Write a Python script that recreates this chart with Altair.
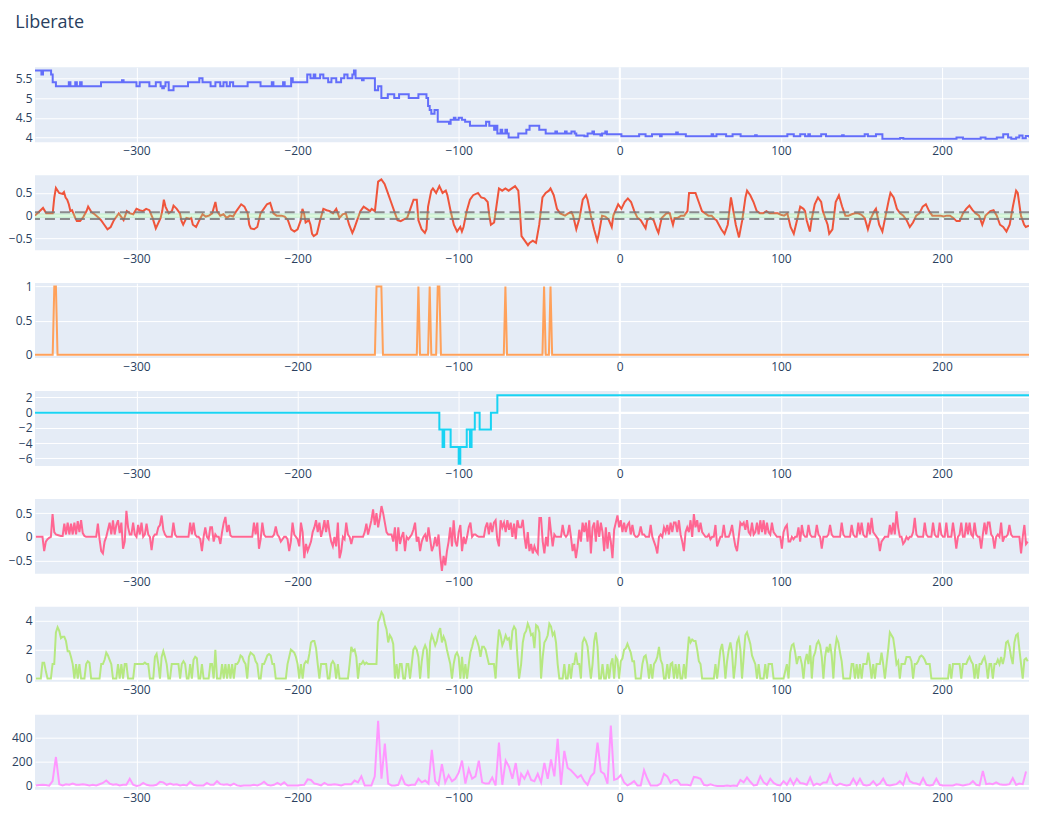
import altair as alt
import pandas as pd

# x range and ticks shared by every panel
X_DOMAIN = [-363, 254]
X_TICKS = [-300, -200, -100, 0, 100, 200]

# traced series are read at even steps, left half and right half of the picture
LEFT_START = -362.5
RIGHT_START = -61.24
FINE_LEFT, FINE_RIGHT = 25 / 24, 5 / 4.85
COARSE_LEFT, COARSE_RIGHT = 25 / 12, 10 / 4.85

# panel 1: level changes (x, value)
rate_steps = [
    (-363, 5.7), (-359, 5.6), (-358, 5.7), (-353, 5.6), (-352, 5.4), (-350, 5.3), (-342, 5.4), (-341, 5.3),
    (-338, 5.4), (-337, 5.3), (-335, 5.4), (-334, 5.3), (-322, 5.4), (-309, 5.45), (-308, 5.4), (-300, 5.3),
    (-298, 5.4), (-292, 5.3), (-288, 5.4), (-285, 5.3), (-284, 5.25), (-283, 5.3), (-282, 5.4), (-280, 5.2),
    (-277, 5.3), (-268, 5.4), (-261, 5.5), (-259, 5.4), (-254, 5.3), (-251, 5.4), (-248, 5.3), (-246, 5.4),
    (-244, 5.3), (-242, 5.4), (-240, 5.3), (-231, 5.4), (-223, 5.3), (-216, 5.4), (-215, 5.3), (-209, 5.4),
    (-208, 5.3), (-204, 5.5), (-203, 5.4), (-194, 5.6), (-192, 5.5), (-190, 5.6), (-189, 5.5), (-186, 5.6),
    (-184, 5.5), (-181, 5.4), (-179, 5.5), (-176, 5.4), (-173, 5.5), (-171, 5.6), (-169, 5.5), (-166, 5.6),
    (-165, 5.7), (-164, 5.5), (-160, 5.45), (-159, 5.5), (-152, 5.2), (-150, 5.3), (-148, 5.0), (-144, 5.1),
    (-140, 5.0), (-137, 5.1), (-131, 5.0), (-125, 5.1), (-120, 5.0), (-119, 4.8), (-118, 4.7), (-117, 4.6),
    (-115, 4.7), (-113, 4.4), (-106, 4.35), (-105, 4.45), (-103, 4.5), (-102, 4.45), (-100, 4.5), (-98, 4.45),
    (-96, 4.4), (-93, 4.3), (-83, 4.4), (-81, 4.3), (-78, 4.2), (-77, 4.3), (-76, 4.1), (-74, 4.2),
    (-73, 4.1), (-71, 4.2), (-70, 4.1), (-69, 4.0), (-63, 4.1), (-58, 4.2), (-56, 4.3), (-50, 4.2),
    (-46, 4.1), (-40, 4.15), (-39, 4.1), (-34, 4.15), (-33, 4.1), (-30, 4.15), (-28, 4.1), (-27, 4.05),
    (-22, 4.03), (-20, 4.1), (-17, 4.15), (-16, 4.08), (-12, 4.05), (-11, 4.1), (-9, 4.15), (-8, 4.08),
    (1, 4.03), (12, 4.08), (16, 4.03), (20, 4.08), (25, 4.03), (26, 4.08), (35, 4.13), (36, 4.08),
    (41, 4.03), (57, 4.08), (58, 4.03), (60, 4.08), (66, 4.03), (70, 4.08), (75, 4.03), (84, 4.06),
    (85, 4.03), (104, 4.08), (108, 4.03), (112, 4.08), (115, 4.03), (117, 4.08), (118, 4.03), (125, 4.08),
    (128, 4.03), (138, 4.06), (139, 4.03), (152, 4.08), (154, 4.03), (159, 4.08), (163, 3.97), (174, 3.99),
    (176, 3.97), (209, 4.0), (213, 3.97), (224, 4.0), (227, 3.97), (234, 4.0), (238, 4.08), (241, 4.0),
    (243, 3.97), (246, 4.0), (248, 4.05), (250, 3.98), (252, 4.04), (254, 4.0),
]

# panel 2: smooth oscillator (x, value)
ratio_pts = [
    (-363, 0.0), (-358, 0.17), (-356, 0.05), (-352, 0.05), (-351, 0.4), (-350, 0.61), (-348, 0.5), (-346, 0.48),
    (-345, 0.52), (-344, 0.4), (-343, 0.35), (-342, 0.25), (-341, 0.1), (-340, 0.12), (-338, -0.05), (-337, -0.12),
    (-335, -0.12), (-333, -0.03), (-331, 0.1), (-330, 0.2), (-328, 0.08), (-326, 0.03), (-324, -0.03), (-322, -0.1),
    (-320, -0.2), (-318, -0.3), (-316, -0.25), (-314, -0.1), (-311, 0.05), (-309, -0.05), (-308, -0.1), (-306, 0.1),
    (-304, 0.05), (-302, 0.03), (-300, 0.15), (-298, 0.12), (-296, 0.1), (-294, 0.15), (-292, 0.12), (-290, -0.05),
    (-288, -0.28), (-285, -0.05), (-284, 0.1), (-283, 0.35), (-282, 0.2), (-280, 0.05), (-278, 0.1), (-277, 0.22),
    (-275, 0.15), (-273, 0.05), (-272, -0.12), (-271, -0.2), (-269, -0.05), (-267, -0.07), (-266, -0.05), (-265, -0.2),
    (-263, -0.25), (-261, -0.1), (-259, 0.03), (-257, -0.02), (-255, 0.0), (-253, 0.05), (-251, 0.3), (-250, 0.1),
    (-248, 0.0), (-246, 0.03), (-244, -0.05), (-242, 0.0), (-240, -0.02), (-238, 0.1), (-235, 0.25), (-233, 0.2),
    (-231, 0.05), (-230, -0.2), (-229, -0.28), (-227, -0.3), (-225, -0.25), (-223, 0.05), (-221, 0.15), (-219, 0.25),
    (-217, 0.28), (-215, 0.05), (-213, 0.0), (-210, 0.0), (-208, -0.02), (-206, -0.1), (-204, -0.3), (-202, -0.35),
    (-200, -0.3), (-198, -0.1), (-197, 0.15), (-196, 0.05), (-195, -0.15), (-193, -0.1), (-192, -0.2), (-191, -0.4),
    (-190, -0.45), (-188, -0.4), (-186, -0.1), (-184, 0.15), (-182, 0.12), (-180, 0.1), (-178, 0.05), (-176, 0.15),
    (-175, 0.05), (-174, -0.05), (-172, 0.03), (-170, 0.05), (-168, -0.2), (-166, -0.38), (-165, -0.3), (-163, -0.1),
    (-161, 0.1), (-159, 0.2), (-157, 0.15), (-155, 0.1), (-154, 0.15), (-152, 0.1), (-150, 0.75), (-148, 0.8),
    (-146, 0.7), (-144, 0.5), (-142, 0.3), (-140, 0.1), (-138, -0.1), (-136, -0.12), (-134, -0.08), (-132, -0.05),
    (-130, 0.15), (-128, 0.35), (-126, 0.35), (-125, -0.1), (-123, -0.3), (-121, -0.38), (-120, -0.3), (-119, 0.2),
    (-117, 0.55), (-116, 0.6), (-114, 0.5), (-112, 0.65), (-110, 0.5), (-108, 0.55), (-107, 0.45), (-105, 0.1),
    (-103, -0.2), (-101, -0.35), (-99, -0.25), (-98, -0.35), (-97, -0.25), (-95, 0.1), (-93, 0.35), (-91, 0.45),
    (-88, 0.5), (-86, 0.4), (-84, 0.38), (-82, 0.3), (-81, 0.0), (-80, -0.2), (-78, -0.15), (-76, 0.35),
    (-75, 0.6), (-73, 0.55), (-71, 0.6), (-69, 0.55), (-67, 0.6), (-65, 0.65), (-63, 0.55), (-62, 0.1),
    (-61, -0.45), (-59, -0.55), (-57, -0.65), (-56, -0.6), (-54, -0.55), (-52, -0.6), (-50, -0.2), (-48, 0.4),
    (-46, 0.5), (-44, 0.55), (-43, 0.6), (-41, 0.45), (-39, 0.15), (-37, 0.05), (-34, 0.0), (-32, 0.05),
    (-30, 0.08), (-29, 0.0), (-27, -0.3), (-25, -0.05), (-23, 0.35), (-21, 0.45), (-20, 0.35), (-18, 0.0),
    (-16, -0.3), (-14, -0.55), (-13, -0.4), (-11, 0.0), (-9, -0.02), (-7, -0.08), (-5, -0.25), (-4, 0.0),
    (-1, 0.25), (1, 0.15), (3, 0.3), (5, 0.38), (7, 0.3), (9, 0.1), (11, -0.05), (13, -0.1),
    (16, -0.28), (17, -0.1), (19, -0.05), (21, -0.1), (23, -0.3), (24, -0.38), (26, -0.05), (29, 0.05),
    (31, 0.05), (33, -0.2), (34, -0.05), (36, -0.05), (38, 0.0), (40, 0.0), (42, 0.1), (43, 0.5),
    (45, 0.5), (47, 0.5), (49, 0.3), (51, 0.1), (53, 0.05), (55, 0.0), (57, 0.0), (59, -0.08),
    (60, -0.1), (63, -0.3), (65, -0.4), (67, -0.2), (69, 0.4), (70, 0.2), (72, -0.2), (74, -0.48),
    (76, -0.1), (78, 0.4), (79, 0.55), (81, 0.45), (83, 0.3), (85, 0.1), (87, 0.05), (89, 0.05),
    (91, 0.1), (93, 0.05), (96, 0.05), (98, 0.05), (100, 0.02), (102, 0.0), (104, 0.05), (106, -0.25),
    (108, -0.4), (110, -0.1), (112, 0.2), (114, 0.15), (115, 0.1), (116, -0.1), (118, -0.35), (119, -0.1),
    (121, 0.25), (123, 0.4), (125, 0.3), (126, 0.1), (129, -0.2), (130, -0.4), (132, -0.3), (134, 0.3),
    (136, 0.45), (138, 0.2), (140, 0.0), (142, 0.0), (144, 0.03), (146, 0.05), (148, 0.05), (150, 0.02),
    (152, -0.05), (154, -0.3), (156, -0.05), (158, 0.1), (159, 0.15), (161, -0.2), (163, -0.35), (165, 0.0),
    (167, 0.35), (168, 0.5), (170, 0.4), (172, 0.15), (174, 0.05), (176, 0.0), (178, -0.1), (180, -0.25),
    (182, -0.15), (184, 0.0), (186, 0.05), (188, 0.2), (190, 0.25), (192, 0.1), (194, 0.0), (197, 0.0),
    (199, 0.0), (201, -0.02), (203, 0.0), (205, 0.0), (207, -0.05), (209, -0.12), (211, -0.12), (213, 0.05),
    (215, 0.15), (217, 0.22), (219, 0.12), (221, 0.05), (223, 0.0), (225, -0.2), (227, 0.0), (230, 0.1),
    (232, 0.12), (234, 0.0), (236, -0.2), (238, -0.25), (240, -0.35), (242, -0.2), (244, 0.2), (246, 0.55),
    (247, 0.5), (249, 0.0), (251, -0.2), (252, -0.25), (254, -0.22),
]
RATIO_BAND = (-0.05, 0.05)
RATIO_LIMITS = [-0.075, 0.075]

# panel 3: days where the flag is on
event_days = [-351, -350, -151, -150, -149, -148, -125, -118, -113, -112, -71, -47, -43]

# panel 4: level changes (x, value)
level_steps = [
    (-363, 0), (-112, -2.2), (-110, -4.5), (-109, -2.2), (-105, -4.5), (-100, -6.7), (-99, -4.5),
    (-95, -2.2), (-93, -4.5), (-92, -2.2), (-90, 0), (-87, -2.2), (-80, 0), (-76, 2.3), (254, 2.3),
]

# panel 5: change series, fine steps
change_left = [
    0, 0, 0, 0, 0, -0.3, -0.1, -0.05, -0.02, 0,
    0.48, 0.1, 0.05, 0.04, 0.03, 0.02, 0.02, 0.28, 0.05, 0.3,
    0.05, 0.28, 0.05, 0.3, 0.05, 0.33, 0.1, 0.35, 0.08, 0.02,
    0, 0, 0, 0, 0, 0, 0, 0.28, -0.05, -0.3,
    -0.35, -0.1, 0, 0.15, 0.3, 0.05, 0.35, 0.05, 0.25, 0.35,
    0.08, 0.3, -0.25, -0.1, 0.55, 0.2, 0.05, 0.05, 0.3, 0.05,
    0, 0.25, 0.05, 0.3, 0, 0.05, 0.28, 0.05, 0, -0.28,
    0, 0.05, 0.05, 0.2, 0.25, 0.45, 0.15, 0.05, 0, 0,
    0, 0, 0.3, 0.05, 0, 0, 0, 0, 0, 0,
    0, 0, 0.3, 0.05, 0.3, 0.05, 0, 0, -0.05, -0.3,
    0, 0.2, 0, -0.05, 0.2, 0.2, -0.1, 0.05, 0, 0,
    -0.15, 0.1, 0.3, 0.42, 0.1, 0.25, 0.03, 0, 0, 0,
    0, 0, 0, 0, 0, 0, 0, 0, 0, 0,
    0.3, 0.05, 0.3, -0.25, -0.05, 0.3, 0.05, 0, 0, 0,
    0, 0, 0.05, 0.22, 0.05, 0, -0.1, -0.05, 0, 0,
    -0.05, -0.3, -0.1, 0.3, 0.05, 0, -0.05, -0.2, 0.3, 0.1,
    -0.45, -0.15, -0.3, -0.2, -0.1, 0.1, 0.2, 0.35, 0.1, 0.3,
    0, 0.15, 0.35, 0.1, 0.35, 0.1, -0.1, -0.2, 0, -0.2,
    0.3, -0.45, -0.3, 0, -0.05, 0.3, 0.05, 0, -0.15, 0,
    0, 0, 0, 0, 0, 0, 0.1, 0.28, 0.05, 0.2,
    0.35, 0.58, 0.25, 0.5, 0.2, 0.4, 0.65, 0.5, 0.3, 0.1,
    0.05, 0.05, 0.05, -0.1, 0.2, -0.3, 0.2, -0.15, 0, 0.1,
    -0.3, 0, -0.05, 0, 0.05, 0.15, 0.3, -0.1, 0, -0.3,
    -0.1, 0, 0.05, -0.1, 0.2, -0.05, -0.3, -0.2, 0, -0.2,
    0.05, -0.4, -0.72, -0.4, -0.6, -0.3, -0.1, 0.2, -0.2, 0.35,
    -0.1, -0.2, 0.1, 0.25, -0.3, 0, -0.15, 0, 0.2, 0.3,
    0, 0.05, 0.05, 0.02, 0, 0, 0, 0, 0.2, 0.3,
    0.05, 0.3, 0.1, 0.3, 0.35, -0.05, -0.2, 0.35, 0.2, 0.3,
    0.1, 0.35, 0.15, 0.3, 0, 0.28, -0.05, 0.35, 0.2,
]
change_right = [
    0.2, 0.36, 0, -0.25, 0.1, -0.3, -0.15, -0.35, -0.2, -0.3,
    -0.35, 0.4, 0.4, -0.1, -0.35, 0, -0.2, 0.42, 0.1, -0.2,
    0.05, 0, 0, 0, 0, 0.25, 0.05, 0, 0.05, 0.25,
    0, -0.3, -0.15, -0.45, -0.2, 0.15, -0.1, 0.3, 0.1, 0.3,
    -0.1, 0.35, -0.35, 0.2, 0.3, -0.1, 0.35, 0, 0.3, 0.1,
    -0.3, 0.2, -0.25, 0.1, -0.1, -0.45, 0.15, 0.3, 0.45, 0.2,
    0.35, 0.1, 0.3, 0.1, 0.25, 0.3, 0.05, 0.25, 0.05, 0,
    0, 0.05, 0.22, 0.05, 0.05, 0, 0, 0, 0.25, 0,
    -0.1, -0.2, -0.35, 0, 0.05, 0, 0.2, 0.1, 0.25, 0.05,
    0.3, 0.1, 0.3, 0.3, 0.1, 0.35, 0.05, -0.1, -0.3, 0.1,
    0.2, 0.1, 0.35, 0, 0.48, 0.2, 0.35, 0.1, 0.3, 0.1,
    0.05, 0, 0, 0.05, -0.05, 0, 0, 0.25, -0.2, -0.1,
    0, 0, 0.25, 0, 0, 0, 0.1, 0.25, 0, -0.2,
    -0.3, 0, 0.3, 0.25, 0.3, 0.15, 0.35, 0.1, 0.05, 0.3,
    0.05, 0.1, 0.3, 0.05, 0.35, 0.1, 0.35, 0.05, 0.3, 0.1,
    0.05, 0.3, 0.1, 0.05, 0, 0, 0, -0.25, 0.1, 0.2,
    0.25, -0.1, -0.1, 0, -0.05, 0, 0, 0.2, -0.1, 0.25,
    0.05, 0, 0, 0.25, 0.05, 0, 0, 0, 0.25, 0.05,
    0, -0.25, 0, 0, 0, 0.05, 0.25, 0.05, 0, 0,
    0, 0, 0, 0.3, 0.05, 0, 0, 0, 0, 0.25,
    0.05, 0, 0, 0.3, 0.05, 0.3, 0.05, 0, 0, 0.3,
    0.05, 0.4, 0.1, 0.05, 0, -0.05, -0.3, -0.1, -0.05, 0,
    0, 0, 0.25, 0.05, 0.3, 0.05, 0.54, 0.2, 0, 0,
    -0.15, -0.1, 0, -0.05, 0, 0, 0.1, 0.4, 0.05, 0,
    0, 0, 0, 0.3, 0.05, 0, 0, 0, 0.3, 0.05,
    0, 0, 0.3, 0.05, 0, 0, 0.3, 0, 0, 0,
    0.3, 0.05, -0.25, 0, 0.05, 0.3, 0, 0, 0.3, 0.05,
    0.3, 0.05, 0, 0.3, 0.05, 0, 0, -0.25, 0.05, 0.3,
    0.05, 0.3, 0.3, 0.05, 0, -0.25, 0, 0.05, 0, 0.3,
    -0.1, 0, 0, 0.05, 0.25, 0.05, 0, 0, 0, 0,
    0, -0.35, 0, 0.25, -0.15, -0.1,
]

# panel 6: count series, fine steps
count_left = [
    0, 0, 0, 0, 1.1, 1.1, 0.5, 0, 0, 0,
    1.0, 1.0, 3.2, 3.55, 3.3, 2.8, 2.9, 2.9, 2.6, 1.9,
    1.9, 1.5, 1.0, 0, 1.0, 0, 1.0, 0, 0, 0,
    1.0, 1.2, 1.1, 0, 0, 0, 0, 0, 0, 1.0,
    1.0, 1.3, 1.8, 1.6, 1.3, 1.0, 0, 0, 0, 1.0,
    0, 1.0, 0, 1.0, 1.0, 0, 0, 0, 0, 1.0,
    1.0, 1.0, 1.0, 1.0, 1.0, 1.1, 1.0, 1.0, 0, 0,
    0, 1.5, 1.7, 1.0, 0, 1.5, 1.9, 1.5, 1.0, 0,
    0, 1.0, 1.0, 1.0, 1.0, 1.0, 0, 1.0, 1.2, 1.0,
    0, 0, 1.0, 0, 1.3, 1.5, 1.4, 0, 0, 1.0,
    0, 0, 0, 0, 1.0, 1.0, 0, 2.0, 0, 0,
    0, 1.0, 0, 1.0, 0, 1.0, 0, 1.0, 0, 1.0,
    1.0, 1.2, 1.6, 1.5, 1.2, 1.0, 0, 1.5, 1.8, 1.7,
    1.6, 1.2, 1.0, 0, 0, 1.0, 1.0, 1.3, 1.6, 1.7,
    1.6, 1.0, 1.0, 0, 0, 0, 0, 0, 0, 0,
    1.0, 1.5, 2.0, 1.9, 1.8, 1.5, 1.0, 0, 1.0, 0,
    1.0, 1.2, 1.1, 1.7, 2.5, 2.6, 2.6, 2.1, 1.0, 0,
    1.0, 1.0, 1.0, 1.0, 0, 0, 1.0, 1.2, 1.0, 0,
    1.0, 0, 0, 0, 0, 0, 0, 1.0, 2.2, 1.9,
    2.0, 1.5, 0, 1.0, 1.0, 1.2, 1.0, 1.1, 1.0, 1.0,
    1.0, 1.0, 1.0, 1.0, 3.9, 4.2, 4.6, 4.4, 3.8, 3.4,
    2.5, 3.0, 2.8, 2.4, 0, 1.0, 0, 1.0, 1.0, 0,
    0, 1.0, 1.0, 0, 1.0, 2.0, 2.2, 2.0, 1.5, 0,
    1.2, 2.0, 2.3, 2.0, 0, 2.5, 3.0, 2.7, 2.3, 2.6,
    3.2, 3.5, 2.5, 2.9, 2.6, 2.0, 1.5, 1.0, 0, 1.0,
    1.6, 1.8, 1.5, 0, 1.5, 0, 1.0, 0, 1.0, 1.8,
    2.2, 2.7, 2.9, 2.6, 2.2, 1.5, 2.2, 2.2, 2.0, 1.5,
    1.0, 1.0, 1.0, 1.0, 0, 2.0, 3.4, 3.0, 2.3, 2.6,
    3.0, 2.7, 2.8, 2.0, 3.3, 3.6, 3.4, 1.5, 0,
]
count_right = [
    1.0, 2.5, 3.1, 3.3, 3.8, 3.5, 3.0, 3.1, 2.1, 3.7,
    3.6, 3.2, 0, 1.5, 2.5, 2.7, 3.0, 3.8, 3.6, 3.0,
    3.2, 2.5, 1.0, 0, 0, 0, 1.0, 0, 0, 1.0,
    0, 1.0, 1.0, 1.8, 1.0, 1.0, 0, 2.5, 2.8, 2.6,
    2.2, 1.0, 0, 1.0, 2.6, 3.2, 2.2, 0, 0, 1.0,
    0, 0, 1.0, 0, 1.0, 1.4, 0, 1.5, 1.3, 0,
    1.2, 1.4, 2.0, 2.1, 2.4, 2.1, 1.8, 1.2, 1.2, 0,
    0, 0, 0, 1.0, 1.5, 1.6, 1.0, 0, 1.0, 0,
    1.0, 1.2, 1.5, 2.2, 1.3, 1.0, 0, 0, 1.0, 0,
    1.0, 1.1, 0, 1.0, 0, 1.0, 0, 0, 1.0, 0,
    1.5, 2.9, 2.5, 2.7, 2.6, 2.6, 2.0, 1.2, 1.0, 0,
    0, 0, 0, 0, 0, 0, 0, 1.0, 0, 1.0,
    2.0, 2.4, 1.5, 0, 1.2, 2.0, 2.5, 1.8, 0, 1.0,
    2.5, 2.8, 2.0, 0, 1.5, 3.0, 3.2, 2.8, 2.4, 1.6,
    1.3, 1.0, 0, 1.0, 0, 0, 0, 1.0, 0, 1.0,
    1.0, 1.0, 0, 0, 0, 0, 0, 0, 0, 0.5,
    1.0, 0, 1.8, 2.3, 2.4, 1.8, 1.0, 1.5, 1.5, 1.0,
    0, 1.2, 1.7, 1.0, 2.3, 0, 1.5, 1.8, 2.4, 2.6,
    2.3, 1.5, 0, 1.5, 2.2, 1.8, 2.4, 1.6, 0, 2.0,
    2.8, 2.5, 1.8, 1.2, 0, 0, 0, 0, 0, 1.0,
    1.0, 0, 1.0, 0, 1.0, 0, 1.0, 1.0, 1.0, 1.8,
    1.0, 0, 1.0, 0, 1.0, 1.0, 1.0, 1.8, 1.0, 0,
    1.0, 2.0, 3.2, 3.0, 2.8, 2.0, 1.0, 1.2, 0, 1.0,
    1.0, 1.0, 1.5, 1.5, 1.5, 1.2, 0, 1.0, 1.0, 1.2,
    1.5, 1.6, 1.5, 1.3, 1.0, 1.0, 1.0, 0, 0, 0,
    0, 0, 0, 0, 0, 0, 0, 0, 1.0, 0,
    1.0, 1.0, 1.0, 1.0, 1.0, 0, 1.0, 1.0, 1.0, 1.3,
    1.5, 1.2, 1.0, 0, 1.0, 0, 1.0, 1.0, 1.3, 1.5,
    1.0, 0, 1.0, 1.0, 0, 1.0, 1.0, 1.3, 1.0, 1.5,
    1.0, 1.5, 2.5, 2.6, 2.2, 1.5, 1.0, 2.5, 3.0, 3.1,
    2.0, 1.0, 0, 1.3, 1.4, 1.2,
]

# panel 7: volume series, coarse steps
volume_left = [
    5, 8, 10, 8, 3, 40, 240, 15, 5, 15,
    10, 20, 10, 10, 15, 10, 5, 10, 5, 15,
    25, 45, 20, 10, 15, 5, 10, 10, 60, 10,
    0, 5, 25, 10, 5, 5, 10, 35, 30, 10,
    20, 10, 15, 5, 10, 5, 35, 10, 5, 5,
    5, 25, 10, 10, 40, 15, 10, 15, 5, 20,
    5, 0, 5, 5, 5, 10, 5, 15, 35, 10,
    5, 10, 25, 10, 30, 5, 5, 5, 5, 8,
    10, 55, 50, 20, 15, 5, 25, 10, 10, 15,
    10, 5, 15, 15, 15, 45, 30, 80, 5, 5,
    5, 80, 540, 60, 350, 20, 5, 5, 10, 80,
    15, 5, 10, 10, 60, 30, 45, 20, 300, 40,
    10, 180, 30, 90, 40, 60, 110, 210, 20, 140,
    60, 80, 210, 30, 20, 20, 70, 5, 360, 10,
    210, 160, 60, 190, 5,
]
volume_right = [
    100, 60, 120, 50, 40, 100, 30, 190, 60, 220,
    80, 390, 10, 290, 150, 130, 100, 70, 90, 40,
    10, 80, 110, 360, 120, 100, 20, 500, 50, 60,
    90, 30, 5, 20, 40, 5, 5, 130, 60, 5,
    5, 5, 20, 100, 80, 25, 50, 50, 10, 10,
    10, 5, 75, 70, 60, 10, 5, 15, 5, 0,
    0, 0, 5, 0, 5, 0, 50, 30, 70, 35,
    5, 10, 80, 30, 10, 60, 25, 10, 5, 40,
    10, 60, 10, 60, 25, 20, 10, 70, 5, 20,
    10, 30, 30, 95, 20, 5, 20, 10, 5, 10,
    60, 10, 60, 10, 5, 10, 40, 5, 20, 60,
    10, 5, 10, 15, 40, 10, 100, 40, 25, 20,
    10, 65, 10, 5, 10, 60, 10, 5, 5, 5,
    5, 15, 10, 5, 10, 15, 40, 10, 5, 125,
    15, 20, 15, 30, 15, 10, 10, 15, 65, 10,
    20, 15, 120,
]

PANEL_W, PANEL_H = 995, 75
LABELS = "format(datum.value, '~r')"


def pairs_df(pairs):
    return pd.DataFrame(pairs, columns=["x", "y"])


def sampled_df(left, right, step_left, step_right):
    xs = [LEFT_START + i * step_left for i in range(len(left))]
    xs += [RIGHT_START + i * step_right for i in range(len(right))]
    return pd.DataFrame({"x": xs, "y": left + right})


def panel(df, color, domain, ticks, interpolate="linear", zero_y=True, band=None, limits=None):
    x = alt.X("x:Q", scale=alt.Scale(domain=X_DOMAIN, nice=False, zero=False),
              axis=alt.Axis(values=X_TICKS, labelExpr=LABELS, title=None))
    y = alt.Y("y:Q", scale=alt.Scale(domain=domain, nice=False, zero=False),
              axis=alt.Axis(values=ticks, labelExpr=LABELS, title=None))

    layers = [alt.Chart(pd.DataFrame({"x": [0]})).mark_rule(color="white", strokeWidth=2).encode(x=x)]
    if zero_y:
        layers.append(alt.Chart(pd.DataFrame({"y": [0]})).mark_rule(color="white", strokeWidth=2).encode(y=y))
    layers.append(alt.Chart(df).mark_line(color=color, strokeWidth=2, interpolate=interpolate, clip=True)
                  .encode(x=x, y=y))
    if band is not None:
        layers.append(alt.Chart(pd.DataFrame({"y": [band[0]], "y2": [band[1]]}))
                      .mark_rect(color="#90ee90", opacity=0.3)
                      .encode(y=y, y2="y2:Q", x=alt.value(0), x2=alt.value(PANEL_W)))
    if limits is not None:
        layers.append(alt.Chart(pd.DataFrame({"y": limits}))
                      .mark_rule(color="#7a7a7a", strokeWidth=2, strokeDash=[10, 5], opacity=0.85)
                      .encode(y=y))
    return alt.layer(*layers).properties(width=PANEL_W, height=PANEL_H)


flag_df = pd.DataFrame({"x": list(range(-363, 255))})
flag_df["y"] = [1 if d in event_days else 0 for d in flag_df["x"]]

panels = [
    panel(pairs_df(rate_steps), "#636EFA", [3.88, 5.78], [4, 4.5, 5, 5.5], interpolate="step-after", zero_y=False),
    panel(pairs_df(ratio_pts), "#EF553B", [-0.76, 0.89], [-0.5, 0, 0.5], band=RATIO_BAND, limits=RATIO_LIMITS),
    panel(flag_df, "#FFA15A", [-0.05, 1.05], [0, 0.5, 1]),
    panel(pairs_df(level_steps), "#19D3F3", [-7.0, 2.85], [-6, -4, -2, 0, 2], interpolate="step-after"),
    panel(sampled_df(change_left, change_right, FINE_LEFT, FINE_RIGHT), "#FF6692", [-0.78, 0.8], [-0.5, 0, 0.5]),
    panel(sampled_df(count_left, count_right, FINE_LEFT, FINE_RIGHT), "#B6E880", [-0.22, 4.97], [0, 2, 4]),
    panel(sampled_df(volume_left, volume_right, COARSE_LEFT, COARSE_RIGHT), "#FF97FF", [-30, 590], [0, 200, 400]),
]

chart = alt.vconcat(*panels, spacing=33, bounds="flush").properties(
    title=alt.Title("Liberate", anchor="start", fontSize=18, font="Open Sans", color="#2a3f5f",
                    fontWeight="normal", offset=34, dx=7),
    padding={"left": 0, "top": 6, "right": 5, "bottom": 4},
).configure_view(
    fill="#E5ECF6", strokeWidth=0
).configure_axis(
    grid=True, gridColor="white", gridWidth=1, domain=False, ticks=False, tickSize=0,
    labelFont="Open Sans", labelFontSize=12, labelColor="#2a3f5f", labelPadding=3
)

chart.save("out.html", embed_options={"renderer": "svg", "actions": False})
